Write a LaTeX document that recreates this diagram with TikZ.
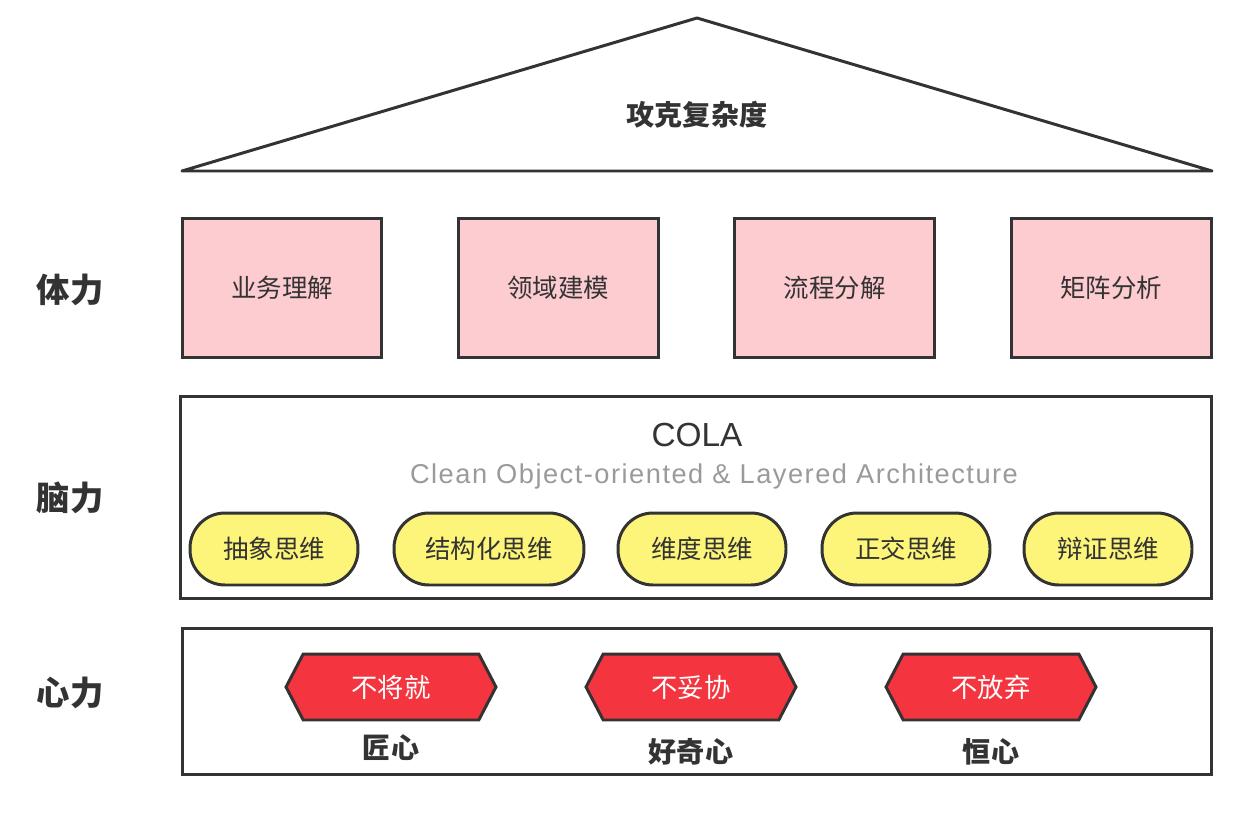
\documentclass[tikz,border=0pt]{standalone}
\usepackage{fontspec}
\setmainfont{Noto Sans CJK SC}
\newfontfamily\latinfont{Liberation Sans}
\newfontfamily\latinwide[LetterSpace=5.5]{Liberation Sans}
\usepackage{xcolor}
\usetikzlibrary{positioning, shapes.symbols}

\definecolor{edgegray}{HTML}{333333}
\definecolor{boxpink}{HTML}{FCCCD1}
\definecolor{pillyellow}{HTML}{FDF57A}
\definecolor{hexred}{HTML}{F4353F}
\definecolor{subgray}{HTML}{9A9A9A}

\tikzset{
  layer/.style={draw=edgegray, line width=1.7pt},
  skill/.style={draw=edgegray, line width=1.7pt, fill=boxpink,
    minimum width=4cm, minimum height=2.78cm, font=\fontsize{14.5}{16}\selectfont, text=edgegray},
  think/.style={draw=edgegray, line width=1.7pt, fill=pillyellow, rounded corners=0.7cm,
    minimum width=3.36cm, minimum height=1.44cm, font=\fontsize{14.5}{16}\selectfont, text=edgegray},
  attitude/.style={signal, signal to=east and west, signal pointer angle=125,
    draw=edgegray, line width=1.7pt, fill=hexred, minimum width=4.2cm, minimum height=1.32cm,
    text=white, font=\fontsize{15}{17}\selectfont},
  heart/.style={font=\bfseries\fontsize{16}{18}\selectfont, text=edgegray},
  power/.style={font=\bfseries\fontsize{19}{21}\selectfont, text=edgegray}
}

\begin{document}
\begin{tikzpicture}[x=0.02cm, y=-0.02cm, node distance=5.53cm, on grid]
    \useasboundingbox (0,0) rectangle (1254,814);

    % roof
    \coordinate (apex) at (697,18);
    \coordinate (eaveL) at (182,171);
    \coordinate (eaveR) at (1212,171);
    \draw[layer, line join=round] (eaveL) -- (apex) -- (eaveR) -- cycle;
    \node[heart] (goal) at (697,115) {攻克复杂度};

    % body
    \node[skill] (s1) at (282,288) {业务理解};
    \node[skill] (s2) [right=of s1] {领域建模};
    \node[skill] (s3) [right=of s2] {流程分解};
    \node[skill] (s4) [right=of s3] {矩阵分析};

    % mind
    \node[layer, minimum width=20.64cm, minimum height=4.06cm] (mind) at (696,497.5) {};
    \node[text=edgegray, font=\latinfont\fontsize{19}{21}\selectfont] (cola) at (697,435) {COLA};
    \node[text=subgray, font=\latinwide\fontsize{15.5}{17}\selectfont] (colafull) at (714,476)
        {Clean Object-oriented \& Layered Architecture};
    \node[think] (t1) at (274,549) {抽象思维};
    \node[think, minimum width=3.8cm] (t2) at (489,549) {结构化思维};
    \node[think] (t3) at (702,549) {维度思维};
    \node[think] (t4) at (906,549) {正交思维};
    \node[think] (t5) at (1108,549) {辩证思维};

    % heart
    \node[layer, minimum width=20.6cm, minimum height=2.94cm] (heartbox) at (697,701.5) {};
    \node[attitude] (a1) at (391,687) {不将就};
    \node[attitude] (a2) at (691,687) {不妥协};
    \node[attitude] (a3) at (991,687) {不放弃};
    \node[heart] (h1) [below=1.22cm of a1] {匠心};
    \node[heart] (h2) [below=1.3cm of a2] {好奇心};
    \node[heart] (h3) [below=1.3cm of a3] {恒心};

    % left labels
    \node[power] (body) at (70,290) {体力};
    \node[power] (brain) at (70,498) {脑力};
    \node[power] (soul) at (70,693) {心力};
\end{tikzpicture}
\end{document}
